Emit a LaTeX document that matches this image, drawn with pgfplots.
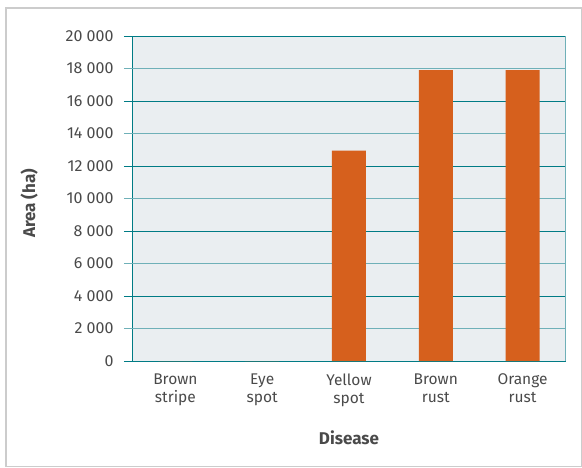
\documentclass[border=0pt]{standalone}
\usepackage{pgfplots}
\pgfplotsset{compat=1.18}
\usepackage{fontspec}
\setmainfont{Fira Sans}
\definecolor{bg}{HTML}{EAEEF1}
\definecolor{dteal}{HTML}{007B85}
\definecolor{lteal}{HTML}{6FB0B8}
\definecolor{bar}{HTML}{D6601D}
\definecolor{txt}{HTML}{4A4A4A}
\definecolor{frame}{HTML}{CCCCCC}
\begin{document}
\begin{tikzpicture}[x=1pt,y=1pt]
\useasboundingbox (0,0) rectangle (582,467);
\draw[frame, line width=1.2pt] (6,0.5) rectangle (581.5,459);
\begin{axis}[
  at={(132pt,106pt)}, anchor=south west,
  scale only axis, width=434pt, height=325pt,
  xmin=-0.5, xmax=4.5, ymin=0, ymax=20000,
  scaled y ticks=false,
  axis background/.style={fill=bg},
  axis line style={dteal, line width=0.8pt},
  axis x line*=bottom, axis y line*=left,
  ytick={0,4000,...,20000},
  extra y ticks={2000,6000,10000,14000,18000},
  extra y tick style={grid style={lteal, line width=1.6pt}, major tick style={lteal, line width=1.6pt}},
  ymajorgrids, grid style={dteal, line width=0.8pt},
  major tick style={dteal, line width=0.8pt},
  tick align=outside, major tick length=8pt,
  xtick={0,...,4},
  xticklabels={{Brown\\stripe},{Eye\\spot},{Yellow\\spot},{Brown\\rust},{Orange\\rust}},
  x tick label style={align=center, font=\fontsize{15.5}{18.5}\selectfont, text=txt, yshift=-1pt},
  xtick style={draw=none},
  extra x ticks={-0.5,0.5,1.5,2.5,3.5,4.5},
  extra x tick labels={},
  extra x tick style={major tick style={dteal, line width=0.8pt}, xmajorgrids=false},
  y tick label style={font=\fontsize{16}{19}\selectfont, text=txt, xshift=-7pt},
  /pgf/number format/assume math mode=true,
  /pgf/number format/.cd, 1000 sep={\ }, /pgfplots/.cd,
  ylabel={\textbf{Area (ha)}},
  xlabel={\textbf{Disease}},
  ylabel style={font=\fontsize{17}{20}\selectfont, text=txt, at={(axis description cs:-0.237,0.485)}, anchor=center},
  xlabel style={font=\fontsize{17}{20}\selectfont, text=txt, at={(axis description cs:0.5,-0.235)}, anchor=center},
]
\addplot[ybar, bar width=34pt, fill=bar, draw=none] coordinates {(0,0) (1,0) (2,12950) (3,17900) (4,17900)};
\draw[lteal, line width=1.6pt] (axis cs:4.5,0) -- (axis cs:4.5,20000);
\end{axis}
\end{tikzpicture}
\end{document}
